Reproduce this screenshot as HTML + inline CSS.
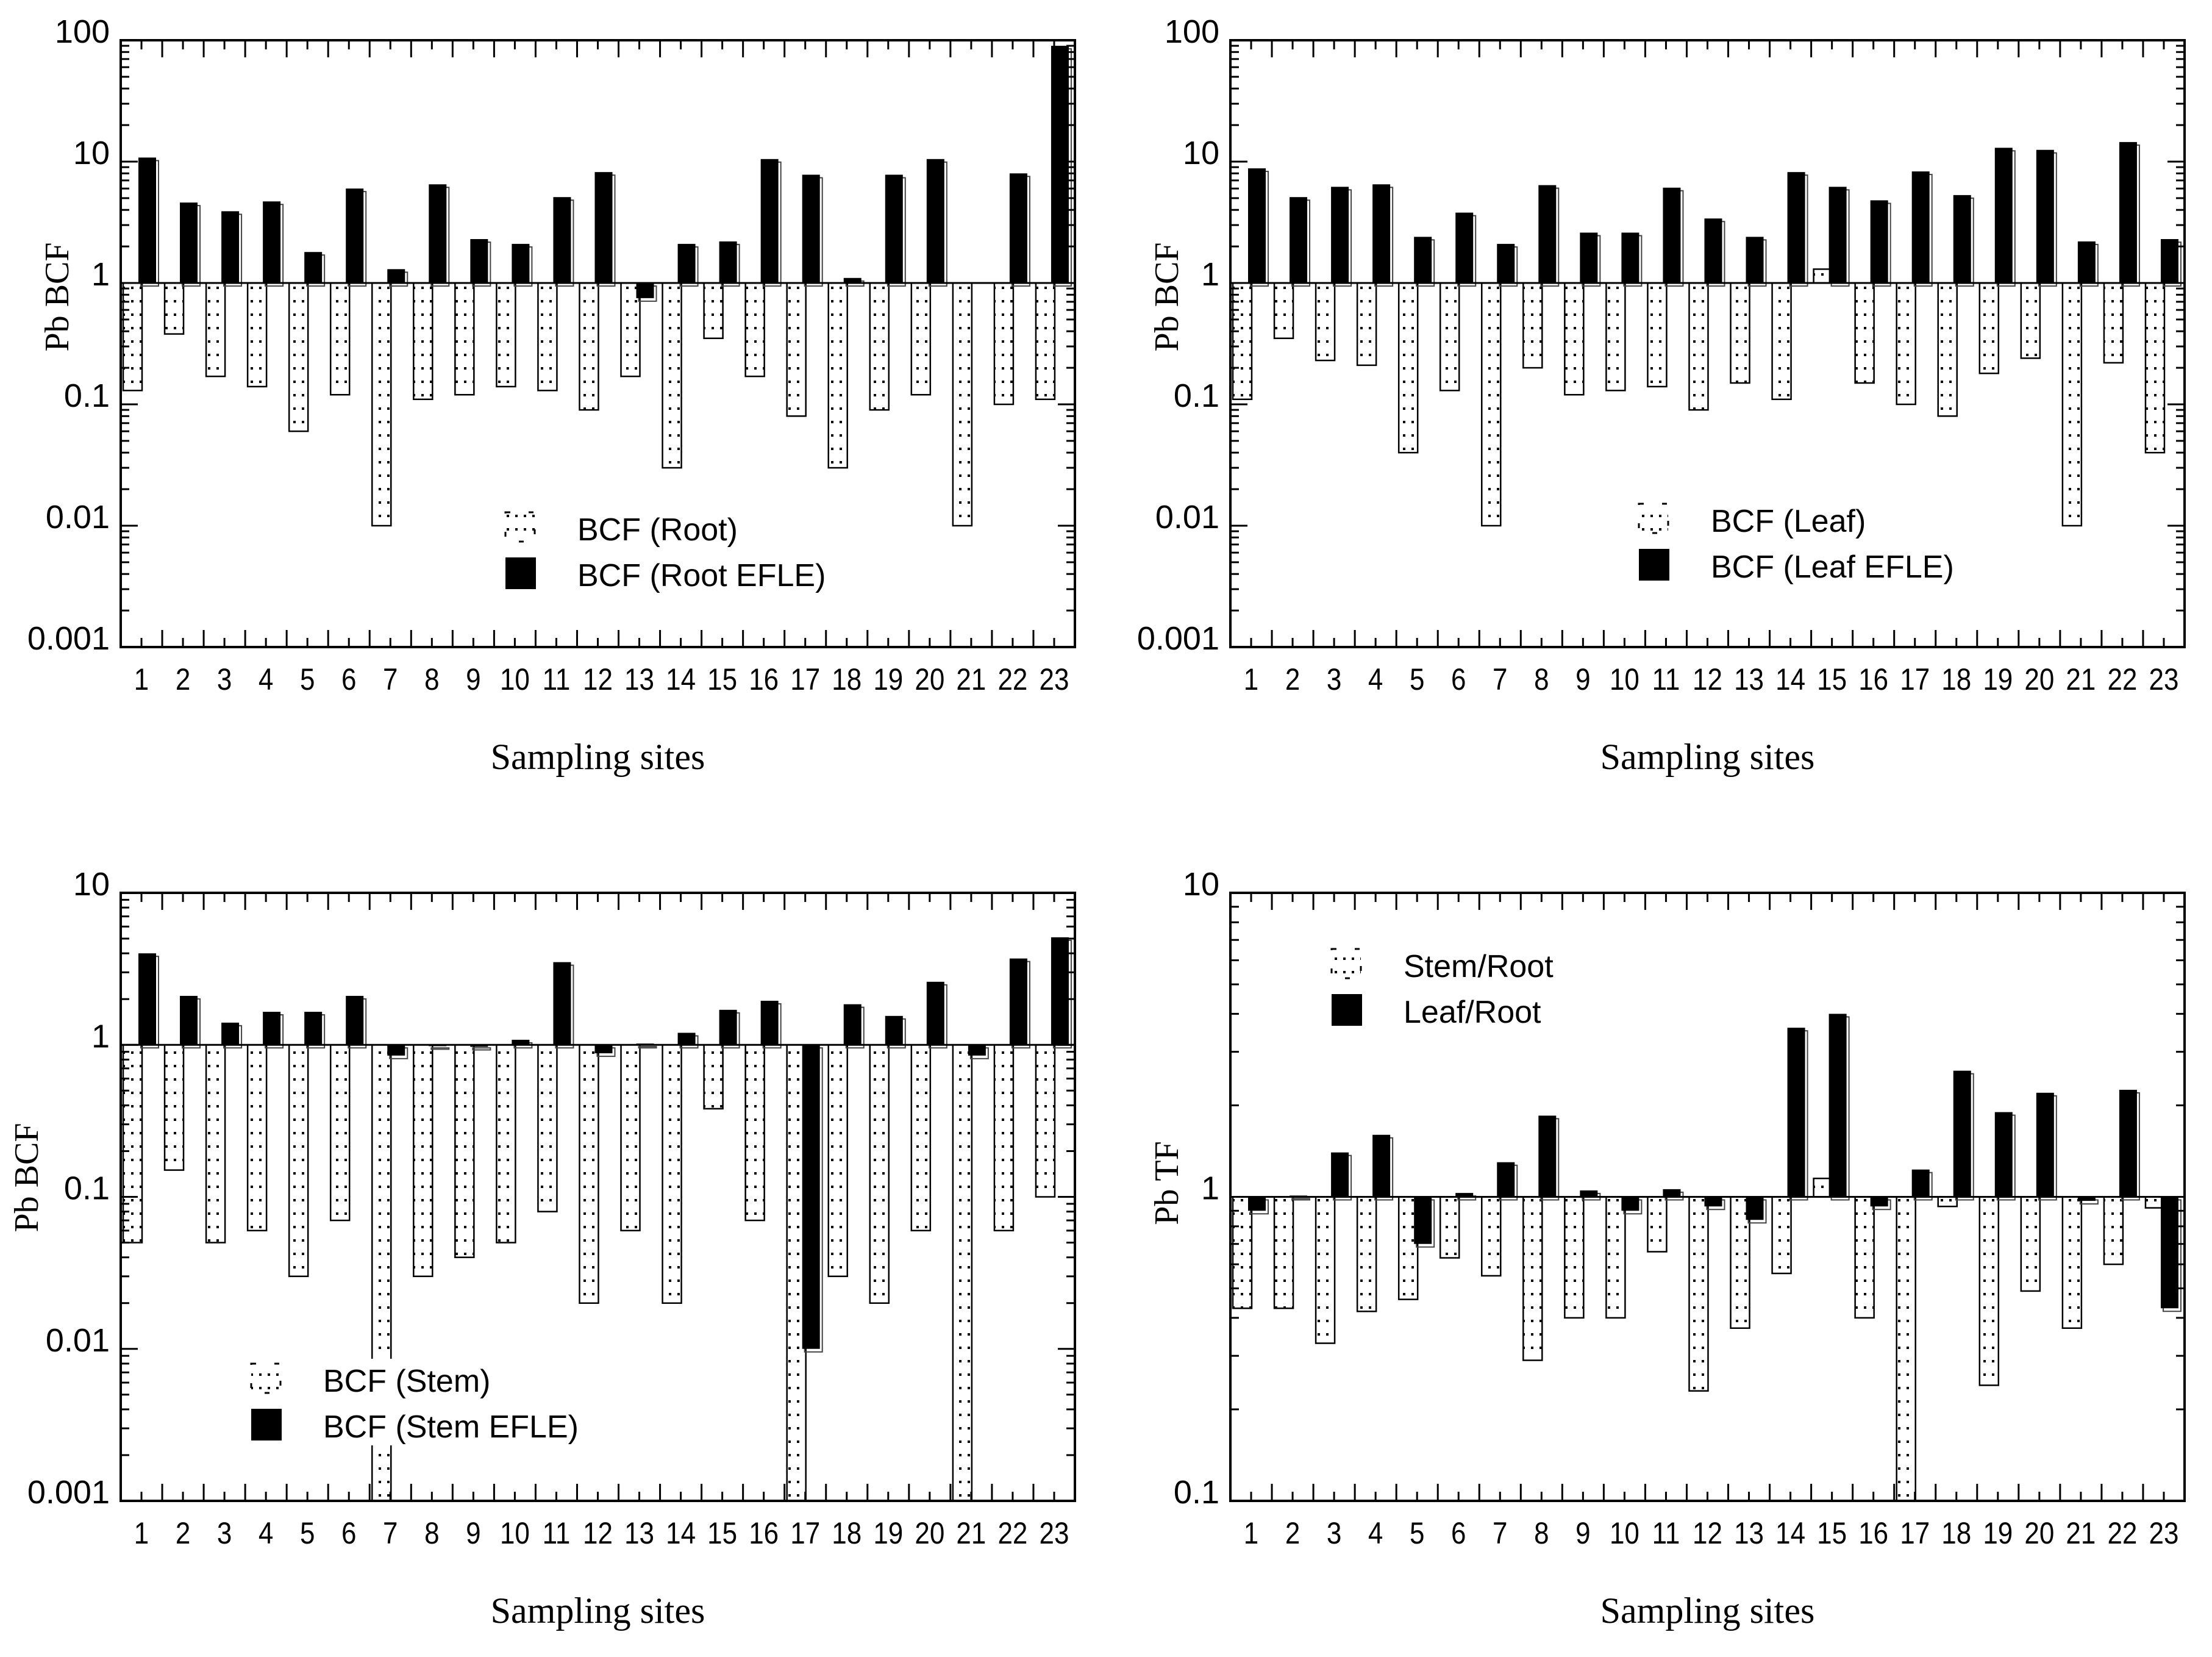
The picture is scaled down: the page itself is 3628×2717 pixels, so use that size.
<!DOCTYPE html>
<html><head><meta charset="utf-8"><style>
html,body{margin:0;padding:0;background:#fff;}
svg{display:block;}
text{font-family:"Liberation Sans",sans-serif;fill:#000;}
.serif{font-family:"Liberation Serif",serif;}
</style></head><body>
<svg id="chart" width="3628" height="2717" viewBox="0 0 3628 2717" xmlns="http://www.w3.org/2000/svg">
<defs>
<pattern id="dots" width="14" height="22" patternUnits="userSpaceOnUse">
<rect x="5" y="8" width="4" height="4" fill="#000"/>
</pattern>
</defs>
</svg>
<script>
const sites = ["1","2","3","4","5","6","7","8","9","10","11","12","13","14","15","16","17","18","19","20","21","22","23"];
const rootBCF = [0.13,0.38,0.17,0.14,0.06,0.12,0.01,0.11,0.12,0.14,0.13,0.09,0.17,0.03,0.35,0.17,0.08,0.03,0.09,0.12,0.01,0.1,0.11];
const rootEFLE = [10.8,4.6,3.9,4.7,1.8,6.0,1.3,6.5,2.3,2.1,5.1,8.2,0.75,2.1,2.2,10.5,7.8,1.1,7.8,10.5,1,8.0,90];
const leafBCF = [0.11,0.35,0.23,0.21,0.04,0.13,0.01,0.2,0.12,0.13,0.14,0.09,0.15,0.11,1.3,0.15,0.1,0.08,0.18,0.24,0.01,0.22,0.04];
const leafEFLE = [8.8,5.1,6.2,6.5,2.4,3.8,2.1,6.4,2.6,2.6,6.1,3.4,2.4,8.2,6.2,4.8,8.3,5.3,13,12.5,2.2,14.5,2.3];
const stemBCF = [0.05,0.15,0.05,0.06,0.03,0.07,0.0008,0.03,0.04,0.05,0.08,0.02,0.06,0.02,0.38,0.07,0.0008,0.03,0.02,0.06,0.0008,0.06,0.1];
const stemEFLE = [4.0,2.1,1.4,1.65,1.65,2.1,0.85,0.98,0.97,1.08,3.5,0.88,1.02,1.2,1.7,1.95,0.01,1.85,1.55,2.6,0.85,3.7,5.1];
const stemRoot = [0.43,0.43,0.33,0.42,0.46,0.63,0.55,0.29,0.4,0.4,0.66,0.23,0.37,0.56,1.15,0.4,0.1,0.93,0.24,0.49,0.37,0.6,0.92];
const leafRoot = [0.9,1.01,1.4,1.6,0.7,1.03,1.3,1.85,1.05,0.9,1.06,0.93,0.84,3.6,4.0,0.93,1.23,2.6,1.9,2.2,0.97,2.25,0.43];
const tickBCF5 = ["0.001","0.01","0.1","1","10","100"];
const tickBCF4 = ["0.001","0.01","0.1","1","10"];
const tickTF = ["0.1","1","10"];

const NS="http://www.w3.org/2000/svg";
const svg=document.getElementById('chart');
function mk(tag,attrs,parent){const e=document.createElementNS(NS,tag);for(const k in attrs)e.setAttribute(k,attrs[k]);(parent||svg).appendChild(e);return e;}

function panel(cfg){
  const g=mk('g',{});
  
  
  const L=cfg.x0,R=cfg.x1,T=cfg.y0,B=cfg.y1;
  const lmin=Math.log10(cfg.min),lmax=Math.log10(cfg.max);
  const y=v=>{let lv=Math.log10(Math.max(v,cfg.min));lv=Math.min(lv,lmax);return B-(lv-lmin)/(lmax-lmin)*(B-T);};
  const bw=(R-L)/sites.length;
  const xb=i=>L+i*bw;
  const y1=y(1);
  for(let i=0;i<sites.length;i++){
    const w=cfg.white[i];
    const wy=y(w);
    const wr=mk('rect',{x:xb(i)+4,y:Math.min(wy,y1),width:31,height:Math.max(Math.abs(wy-y1),1),fill:'url(#dots)',stroke:'#000','stroke-width':2.5},g);
    
    
    const b=cfg.black[i];
    const by=y(b);
    if(Math.abs(by-y1)>0.5){
      const sh=mk('rect',{x:xb(i)+33,y:Math.min(by,y1)+5,width:29,height:Math.abs(by-y1),fill:'none',stroke:'#444','stroke-width':2},g);
      
      
      const br=mk('rect',{x:xb(i)+29,y:Math.min(by,y1),width:29,height:Math.abs(by-y1),fill:'#000'},g);
      
      
    }
  }
  const bl=mk('line',{x1:L,x2:R,y1:y1,y2:y1,stroke:'#000','stroke-width':3},g);
  
  
  const fr=mk('rect',{x:L,y:T,width:R-L,height:B-T,fill:'none',stroke:'#000','stroke-width':4},g);
  
  
  for(let i=0;i<=sites.length;i++){
    const x=xb(i);
    if(i>0&&i<sites.length){
      mk('line',{x1:x,x2:x,y1:B,y2:B-28,stroke:'#000','stroke-width':3},g);
      mk('line',{x1:x,x2:x,y1:T,y2:T+28,stroke:'#000','stroke-width':3},g);
    }
    if(i<sites.length){
      const xc=x+bw/2;
      mk('line',{x1:xc,x2:xc,y1:B,y2:B-15,stroke:'#000','stroke-width':3},g);
      mk('line',{x1:xc,x2:xc,y1:T,y2:T+15,stroke:'#000','stroke-width':3},g);
      const t=mk('text',{x:xc,y:B+70,'font-size':50,'text-anchor':'middle',transform:'translate('+xc+',0) scale(0.88,1) translate('+(-xc)+',0)'},g);
      t.textContent=sites[i];
      
      
    }
  }
  for(let d=Math.round(lmin);d<Math.round(lmax);d++){
    for(let m=2;m<=9;m++){
      const yy=y(m*Math.pow(10,d));
      mk('line',{x1:L,x2:L+14,y1:yy,y2:yy,stroke:'#000','stroke-width':3},g);
      mk('line',{x1:R,x2:R-14,y1:yy,y2:yy,stroke:'#000','stroke-width':3},g);
    }
  }
  cfg.ticks.forEach(lbl=>{
    const yy=y(parseFloat(lbl));
    mk('line',{x1:L,x2:L+28,y1:yy,y2:yy,stroke:'#000','stroke-width':3},g);
    mk('line',{x1:R,x2:R-28,y1:yy,y2:yy,stroke:'#000','stroke-width':3},g);
    const t=mk('text',{x:L-18,y:yy+4,'font-size':54,'text-anchor':'end'},g);
    t.textContent=lbl;
    
    
  });
  const xt=mk('text',{x:(L+R)/2,y:B+200,'font-size':60,'text-anchor':'middle',class:'serif'},g);
  xt.textContent='Sampling sites';
  
  
  const yt=mk('text',{x:0,y:0,'font-size':56,'text-anchor':'middle',class:'serif',transform:'translate('+(cfg.ytx)+','+(cfg.yty)+') rotate(-90)'},g);
  yt.textContent=cfg.ytitle;
  
  
  const lg=mk('g',{},g);
  
  
  const lx=cfg.lx,ly=cfg.ly;
  if(cfg.bg){
    const bg=mk('rect',{x:lx-6,y:ly-8,width:cfg.bg,height:142,fill:'#fff'},lg);
    
    
  }
  const e1=mk('rect',{x:lx,y:ly,width:48,height:48,fill:'url(#dots)',stroke:'#000','stroke-width':3,'stroke-dasharray':'8 30'},lg);
  
  
  const t1=mk('text',{x:lx+118,y:ly+46,'font-size':52},lg);
  t1.textContent=cfg.l1;
  
  
  const e2=mk('rect',{x:lx,y:ly+74,width:50,height:52,fill:'#000'},lg);
  
  
  const t2=mk('text',{x:lx+118,y:ly+121,'font-size':52},lg);
  t2.textContent=cfg.l2;
  
  
}

panel({name:'panel-root-bcf',x0:198,x1:1763,y0:66,y1:1061,min:0.001,max:100,white:rootBCF,black:rootEFLE,wkey:'root',bkey:'root-efle',ticks:tickBCF5,ytitle:'Pb BCF',ytx:112,yty:487,lx:829,ly:840,l1:'BCF (Root)',l2:'BCF (Root EFLE)'});
panel({name:'panel-leaf-bcf',x0:2018,x1:3583,y0:66,y1:1061,min:0.001,max:100,white:leafBCF,black:leafEFLE,wkey:'leaf',bkey:'leaf-efle',ticks:tickBCF5,ytitle:'Pb BCF',ytx:1932,yty:487,lx:2688,ly:826,l1:'BCF (Leaf)',l2:'BCF (Leaf EFLE)'});
panel({name:'panel-stem-bcf',x0:198,x1:1763,y0:1464,y1:2461,min:0.001,max:10,white:stemBCF,black:stemEFLE,wkey:'stem',bkey:'stem-efle',ticks:tickBCF4,ytitle:'Pb BCF',ytx:62,yty:1931,lx:412,ly:2236,l1:'BCF (Stem)',l2:'BCF (Stem EFLE)',bg:560});
panel({name:'panel-tf',x0:2018,x1:3583,y0:1464,y1:2461,min:0.1,max:10,white:stemRoot,black:leafRoot,wkey:'stem-root',bkey:'leaf-root',ticks:tickTF,ytitle:'Pb TF',ytx:1932,yty:1940,lx:2184,ly:1556,l1:'Stem/Root',l2:'Leaf/Root'});
</script>
</body></html>
